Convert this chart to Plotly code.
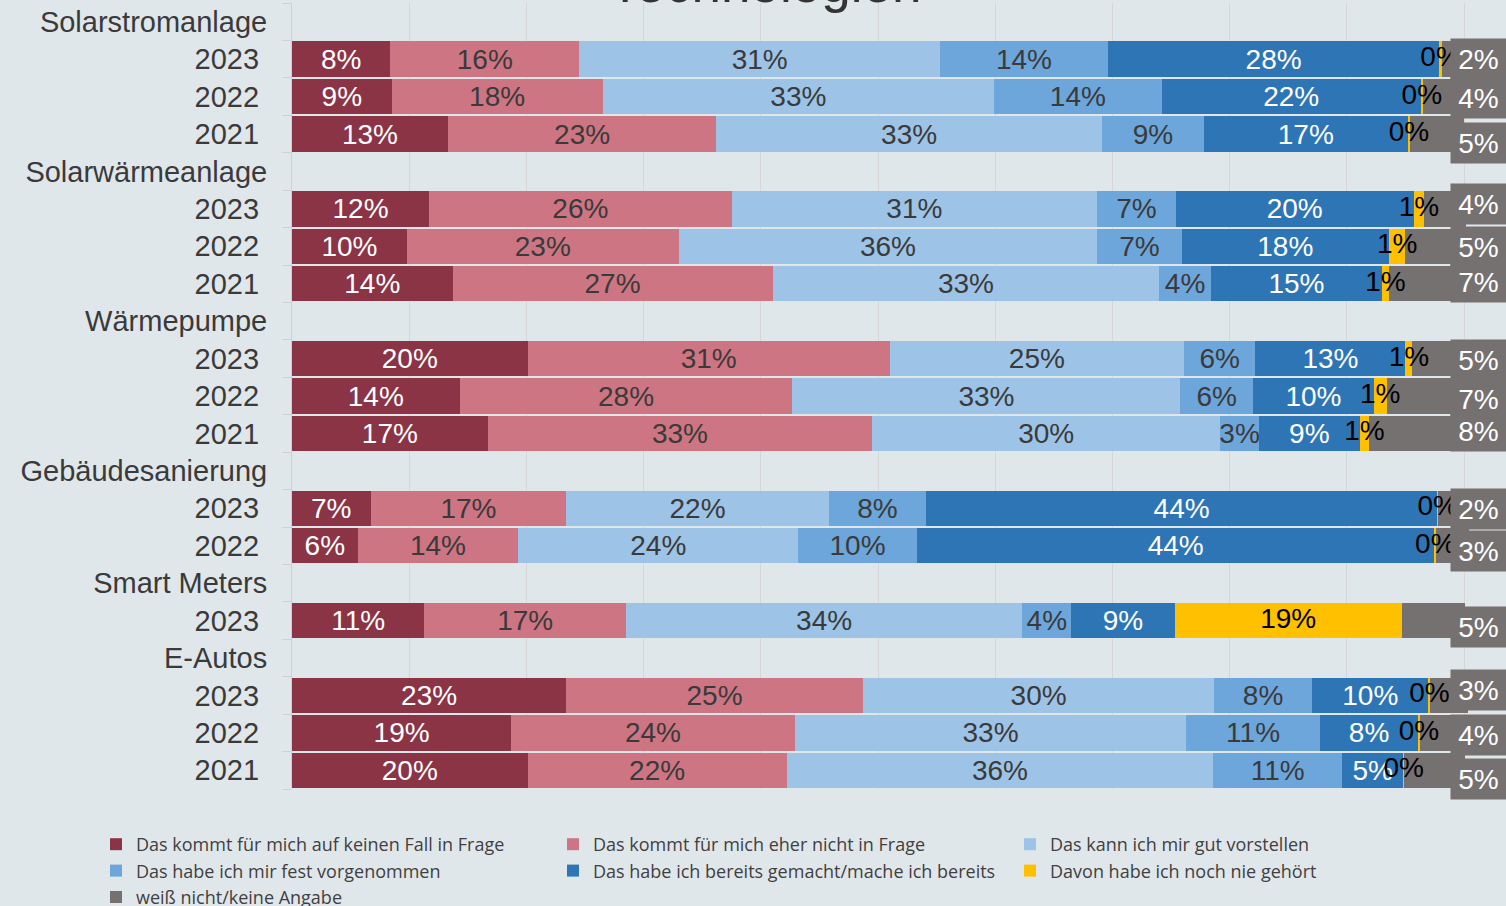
import math
import plotly.graph_objects as go

# ---------------- data ----------------
groups = ["Solarstromanlage", "Solarwärmeanlage", "Wärmepumpe",
          "Gebäudesanierung", "Smart Meters", "E-Autos"]
group_years = [["2023", "2022", "2021"],
               ["2023", "2022", "2021"],
               ["2023", "2022", "2021"],
               ["2023", "2022"],
               ["2023"],
               ["2023", "2022", "2021"]]

series_names = ["Das kommt für mich auf keinen Fall in Frage",
                "Das kommt für mich eher nicht in Frage",
                "Das kann ich mir gut vorstellen",
                "Das habe ich mir fest vorgenommen",
                "Das habe ich bereits gemacht/mache ich bereits",
                "Davon habe ich noch nie gehört",
                "weiß nicht/keine Angabe"]

keinen_fall      = [8.4, 8.5, 13.3, 11.7, 9.8, 13.7, 20.1, 14.3, 16.7, 6.7, 5.6, 11.3, 23.4, 18.7, 20.1]
eher_nicht       = [16.1, 18.0, 22.9, 25.8, 23.2, 27.3, 30.9, 28.4, 32.8, 16.7, 13.7, 17.2, 25.3, 24.2, 22.1]
gut_vorstellen   = [30.8, 33.4, 32.9, 31.2, 35.7, 33.0, 25.1, 33.1, 29.7, 22.4, 23.9, 33.8, 30.0, 33.4, 36.4]
fest_vorgenommen = [14.3, 14.3, 8.7, 6.7, 7.2, 4.4, 6.1, 6.2, 3.3, 8.3, 10.1, 4.2, 8.3, 11.4, 11.0]
bereits          = [28.3, 22.1, 17.4, 20.3, 17.7, 14.6, 12.8, 10.3, 8.6, 43.6, 44.2, 8.8, 10.0, 8.4, 5.2]
nie_gehoert      = [0.2, 0.2, 0.2, 0.9, 1.4, 0.6, 0.6, 1.1, 0.8, 0.1, 0.1, 19.4, 0.1, 0.1, 0.1]
weiss_nicht      = [2.0, 3.6, 4.6, 3.6, 5.1, 6.7, 4.6, 6.6, 8.3, 2.4, 2.8, 5.4, 3.2, 3.8, 5.2]

# ---------------- styles ----------------
colors = ["#8B3446", "#CD7583", "#9DC3E6", "#6CA6DA", "#2E75B6", "#FFC000", "#767171"]
text_colors = ["white", "#3a3a3a", "#3a3a3a", "#3a3a3a", "white", "black", "white"]
gray_label_shift = [0, 1, 9, -5, 1, -2, 1, 3, -2, 1, 5, 6, -5, 2, 9]  # px, down
BG = "#E0E7EB"
LABEL_FONT = "Liberation Sans, Arial, sans-serif"

# ---------------- row layout ----------------
tickvals, ticktext, bar_rows = [], [], []
r = 0
for g, yrs in zip(groups, group_years):
    tickvals.append(r); ticktext.append(g); r += 1
    for yv in yrs:
        tickvals.append(r); ticktext.append(yv + "\u00a0"); bar_rows.append(r); r += 1
n_rows = r

def pct(v):
    return f"{int(math.floor(v + 0.5 + 1e-9))}%"

all_series = [keinen_fall, eher_nicht, gut_vorstellen, fest_vorgenommen,
              bereits, nie_gehoert, weiss_nicht]

fig = go.Figure()
for i, (name, vals) in enumerate(zip(series_names, all_series)):
    show_text = i < 5
    fig.add_trace(go.Bar(
        name=name, orientation="h", x=vals, y=bar_rows,
        marker=dict(color=colors[i], line=dict(width=0)),
        text=[pct(v) for v in vals] if show_text else None,
        textposition="inside" if show_text else "none",
        insidetextanchor="middle", textangle=0, constraintext="none",
        textfont=dict(size=28, color=text_colors[i], family=LABEL_FONT),
        hoverinfo="skip",
    ))

# labels of the "nie gehört" segment drawn on top (they overflow the thin segments)
cum_before = [sum(s[k] for s in all_series[:5]) for k in range(len(bar_rows))]
fig.add_trace(go.Scatter(
    x=[c + v / 2 for c, v in zip(cum_before, nie_gehoert)], y=bar_rows,
    mode="text", text=[pct(v) for v in nie_gehoert],
    textfont=dict(size=28, color="black", family=LABEL_FONT),
    showlegend=False, hoverinfo="skip", cliponaxis=False,
))

# boxed labels for "weiß nicht"
for k, (row, v) in enumerate(zip(bar_rows, weiss_nicht)):
    fig.add_annotation(
        x=101.2, y=row, xref="x", yref="y", text=pct(v), showarrow=False,
        font=dict(size=28, color="white", family=LABEL_FONT),
        bgcolor="#767171", width=47, height=32, borderpad=4,
        xanchor="center", yanchor="middle", yshift=-gray_label_shift[k],
    )

# title (cut off at the top edge, as in the reference)
fig.add_annotation(
    x=(765 - 292) / 1214, y=1, xref="paper", yref="paper", yanchor="bottom",
    text="Technologien", showarrow=False, yshift=-12,
    font=dict(size=53, color="#333333", family=LABEL_FONT),
)

fig.update_layout(
    width=1506, height=906, barmode="stack", bargap=0.055,
    paper_bgcolor=BG, plot_bgcolor=BG,
    margin=dict(l=292, r=0, t=3, b=117, autoexpand=False),
    xaxis=dict(range=[0, 103.58], dtick=10, tick0=0, showgrid=True,
               gridcolor="#D6D6D6", gridwidth=1, showticklabels=False,
               zeroline=False, showline=False, fixedrange=True, automargin=False),
    yaxis=dict(range=[n_rows - 0.5, -0.5], tickvals=tickvals, ticktext=ticktext,
               ticks="", showgrid=False, zeroline=False, automargin=False,
               showline=True, linecolor="#D0D0D0", linewidth=1,
               ticklabelstandoff=18,
               tickfont=dict(size=29, color="#3a3a3a", family=LABEL_FONT),
               minor=dict(tickvals=[i - 0.5 for i in range(n_rows + 1)],
                          ticks="outside", ticklen=8, tickcolor="#D0D0D0",
                          showgrid=False)),
    legend=dict(orientation="h", x=(96 - 292) / 1214, y=-(826 - 789) / 786,
                xref="paper", yref="paper",
                xanchor="left", yanchor="top",
                entrywidth=412, entrywidthmode="pixels", itemwidth=30,
                font=dict(size=18, color="#404040",
                          family="Liberation Sans Narrow, Open Sans, sans-serif"),
                bgcolor="rgba(0,0,0,0)", traceorder="normal"),
    showlegend=True,
)

fig.write_html("out.html")
